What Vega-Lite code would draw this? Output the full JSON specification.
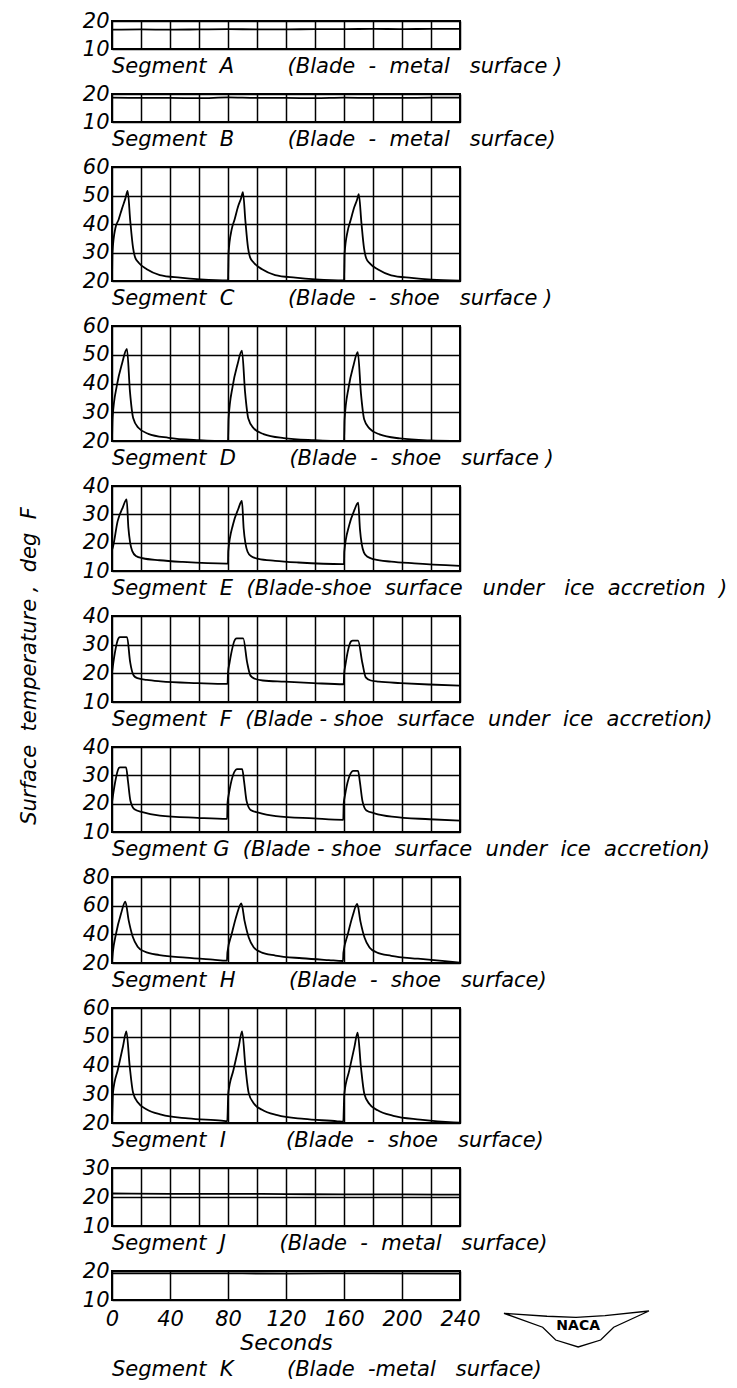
{
  "$schema": "https://vega.github.io/schema/vega-lite/v6.json",
  "padding": {"left": 19, "top": 9, "right": 2, "bottom": 2},
  "background": "white",
  "bounds": "flush",
  "spacing": 45,
  "title": {"text": "Surface\u00a0 temperature\u00a0,\u00a0 deg\u00a0 F", "orient": "left", "anchor": "middle", "frame": "bounds", "offset": 41, "dx": 29, "fontSize": 21, "fontStyle": "italic"},
  "datasets": {
    "A": [{"t":0,"v":16.9},{"t":20,"v":17},{"t":40,"v":16.9},{"t":60,"v":17},{"t":80,"v":17.1},{"t":100,"v":17},{"t":120,"v":17},{"t":140,"v":17.1},{"t":160,"v":17.1},{"t":180,"v":17.2},{"t":200,"v":17.1},{"t":220,"v":17.2},{"t":240,"v":17.2}],
    "B": [{"t":0,"v":18.7},{"t":20,"v":18.6},{"t":40,"v":18.6},{"t":60,"v":18.5},{"t":80,"v":18.8},{"t":100,"v":18.6},{"t":120,"v":18.6},{"t":140,"v":18.5},{"t":160,"v":18.7},{"t":180,"v":18.6},{"t":200,"v":18.6},{"t":220,"v":18.7},{"t":240,"v":18.7}],
    "C": [{"t":0,"v":20},{"t":0.3,"v":30},{"t":2.3,"v":38.5},{"t":4.6,"v":41.6},{"t":6.9,"v":45.4},{"t":9.2,"v":48.9},{"t":10.8,"v":51.6},{"t":12.6,"v":41},{"t":14.5,"v":31.7},{"t":16,"v":28.2},{"t":18.4,"v":26.4},{"t":24,"v":24.1},{"t":33,"v":22.1},{"t":47,"v":21.2},{"t":61,"v":20.6},{"t":80,"v":20.2},
          {"t":80.4,"v":29.9},{"t":82.5,"v":38},{"t":84.5,"v":41.5},{"t":87,"v":46.2},{"t":89,"v":49},{"t":90.3,"v":51.2},{"t":92,"v":41},{"t":93.8,"v":31.7},{"t":95.3,"v":28.2},{"t":97.8,"v":26.4},{"t":103.5,"v":24.1},{"t":112.5,"v":22.1},{"t":126.5,"v":21.2},{"t":140.5,"v":20.6},{"t":160,"v":20.2},
          {"t":160.4,"v":29.5},{"t":162.5,"v":37.5},{"t":164.5,"v":41.2},{"t":167,"v":45.8},{"t":169,"v":48.5},{"t":170.2,"v":50.5},{"t":172,"v":40.5},{"t":173.8,"v":31.5},{"t":175.3,"v":28},{"t":177.8,"v":26.2},{"t":183.5,"v":24},{"t":192.5,"v":22},{"t":206.5,"v":21.1},{"t":220.5,"v":20.5},{"t":240,"v":20.1}],
    "D": [{"t":0,"v":20},{"t":0.4,"v":28},{"t":3.4,"v":39.4},{"t":6.9,"v":46.9},{"t":10.3,"v":52},{"t":12.4,"v":37.1},{"t":14.6,"v":28},{"t":18.2,"v":24.6},{"t":25,"v":22.5},{"t":39,"v":21.1},{"t":60,"v":20.3},{"t":80,"v":20},
          {"t":80.4,"v":27.8},{"t":83.2,"v":39},{"t":86.5,"v":46.5},{"t":89.6,"v":51.4},{"t":91.8,"v":36.8},{"t":94,"v":27.8},{"t":97.6,"v":24.5},{"t":104.5,"v":22.4},{"t":118.5,"v":21},{"t":139.5,"v":20.3},{"t":160,"v":20},
          {"t":160.4,"v":27.5},{"t":163.2,"v":38.7},{"t":166.5,"v":46.2},{"t":169.5,"v":50.9},{"t":171.7,"v":36.5},{"t":173.9,"v":27.6},{"t":177.5,"v":24.4},{"t":184.5,"v":22.3},{"t":198.5,"v":20.9},{"t":219.5,"v":20.2},{"t":240,"v":20}],
    "E": [{"t":0,"v":17.5},{"t":0.5,"v":18.2},{"t":3.9,"v":27.6},{"t":7.4,"v":32.4},{"t":10.1,"v":35.3},{"t":11.3,"v":25.3},{"t":12.5,"v":20},{"t":14,"v":17},{"t":16.5,"v":15.3},{"t":21.2,"v":14.5},{"t":32.7,"v":13.8},{"t":48.8,"v":13.2},{"t":78.8,"v":12.6},{"t":80,"v":12.6},
          {"t":80.2,"v":17},{"t":83.5,"v":26.5},{"t":87,"v":31.8},{"t":89.6,"v":34.7},{"t":90.8,"v":25},{"t":92,"v":19.8},{"t":93.5,"v":16.8},{"t":96,"v":15.2},{"t":101,"v":14.3},{"t":112.5,"v":13.6},{"t":128.5,"v":13},{"t":158.8,"v":12.4},{"t":160,"v":12.4},
          {"t":160.2,"v":16.8},{"t":163.5,"v":26},{"t":167,"v":31.3},{"t":169.8,"v":34.1},{"t":171,"v":24.8},{"t":172.2,"v":19.6},{"t":173.7,"v":16.6},{"t":176.2,"v":15},{"t":181,"v":14.1},{"t":192.5,"v":13.3},{"t":208.5,"v":12.7},{"t":240,"v":11.8}],
    "F": [{"t":0,"v":20.3},{"t":1,"v":24},{"t":4.6,"v":32.3},{"t":5.5,"v":32.6},{"t":10.4,"v":32.6},{"t":12.5,"v":24},{"t":15,"v":19.2},{"t":17.5,"v":18.3},{"t":24,"v":17.7},{"t":33.5,"v":17.2},{"t":59,"v":16.6},{"t":79.7,"v":16.3},
          {"t":80,"v":20.3},{"t":81,"v":23.5},{"t":85,"v":31.9},{"t":86,"v":32.2},{"t":90.5,"v":32.2},{"t":93.2,"v":23.8},{"t":95.5,"v":19.2},{"t":98.5,"v":18.1},{"t":104,"v":17.5},{"t":119,"v":17.1},{"t":139,"v":16.6},{"t":159.8,"v":16.2},
          {"t":160.1,"v":19.8},{"t":161,"v":23},{"t":165,"v":31.2},{"t":166,"v":31.4},{"t":169.7,"v":31.4},{"t":172.6,"v":23.8},{"t":175,"v":18.6},{"t":178.5,"v":17.5},{"t":184,"v":17.1},{"t":199,"v":16.6},{"t":219,"v":16.1},{"t":240,"v":15.7}],
    "G": [{"t":0,"v":20.5},{"t":1,"v":24},{"t":4.8,"v":32.6},{"t":5.5,"v":32.8},{"t":9.7,"v":32.8},{"t":11,"v":28},{"t":12.7,"v":21},{"t":15.5,"v":18},{"t":21,"v":17},{"t":33,"v":15.8},{"t":59,"v":15},{"t":79.4,"v":14.6},
          {"t":79.7,"v":20.3},{"t":80.7,"v":23.7},{"t":85.5,"v":32},{"t":86.2,"v":32.2},{"t":89.8,"v":32.2},{"t":91.1,"v":27.8},{"t":92.8,"v":21},{"t":95.6,"v":17.8},{"t":101,"v":16.8},{"t":113,"v":15.6},{"t":139,"v":14.8},{"t":159.5,"v":14.3},
          {"t":159.8,"v":20},{"t":160.8,"v":23.3},{"t":165.6,"v":31.4},{"t":166.3,"v":31.6},{"t":169.7,"v":31.6},{"t":171,"v":27.5},{"t":172.7,"v":21},{"t":175.5,"v":17.6},{"t":181,"v":16.6},{"t":193,"v":15.4},{"t":219,"v":14.5},{"t":240,"v":14}],
    "H": [{"t":0,"v":21.5},{"t":0.5,"v":26.9},{"t":2.8,"v":40.6},{"t":6.2,"v":54.3},{"t":9.2,"v":62.8},{"t":11.5,"v":49.7},{"t":14.3,"v":38.3},{"t":17.7,"v":31.4},{"t":22.4,"v":28},{"t":32.7,"v":25.5},{"t":51,"v":23.7},{"t":69.6,"v":22.3},{"t":79.3,"v":21.6},
          {"t":79.6,"v":27.5},{"t":82.5,"v":40},{"t":86,"v":53.5},{"t":89.2,"v":61.6},{"t":91.5,"v":49},{"t":94.3,"v":37.8},{"t":97.7,"v":31},{"t":102.4,"v":27.7},{"t":112.7,"v":25.2},{"t":131,"v":23.3},{"t":149.6,"v":22},{"t":159.3,"v":21.4},
          {"t":159.6,"v":27.2},{"t":162.5,"v":39.6},{"t":166,"v":53},{"t":169.1,"v":61.2},{"t":171.4,"v":48.7},{"t":174.2,"v":37.6},{"t":177.6,"v":30.8},{"t":182.3,"v":27.5},{"t":192.6,"v":25},{"t":211,"v":23},{"t":229.6,"v":21.3},{"t":240,"v":20.2}],
    "I": [{"t":0,"v":20.6},{"t":0.7,"v":30.6},{"t":4.1,"v":38.7},{"t":7.6,"v":46.7},{"t":9.9,"v":51.9},{"t":12.2,"v":39.8},{"t":14.5,"v":30.6},{"t":17.9,"v":27.1},{"t":23.7,"v":24.8},{"t":34,"v":22.9},{"t":52.5,"v":21.6},{"t":75.5,"v":20.8},{"t":79.5,"v":20.6},
          {"t":80.2,"v":30.3},{"t":83.8,"v":38.5},{"t":87.4,"v":46.6},{"t":89.7,"v":51.9},{"t":92,"v":39.6},{"t":94.3,"v":30.4},{"t":97.7,"v":26.9},{"t":103.5,"v":24.6},{"t":114,"v":22.7},{"t":132.5,"v":21.4},{"t":155.5,"v":20.6},{"t":159.5,"v":20.4},
          {"t":160.2,"v":30},{"t":163.6,"v":38.2},{"t":167.1,"v":46.2},{"t":169.4,"v":51.4},{"t":171.7,"v":39.3},{"t":174,"v":30.2},{"t":177.4,"v":26.7},{"t":183.2,"v":24.4},{"t":194,"v":22.5},{"t":212.5,"v":21.2},{"t":235.5,"v":20.2},{"t":240,"v":20.1}],
    "J": [{"t":0,"v":21.2},{"t":40,"v":21.1},{"t":80,"v":21.1},{"t":120,"v":21},{"t":160,"v":20.9},{"t":200,"v":20.9},{"t":240,"v":20.8}],
    "K": [{"t":0,"v":19.2},{"t":60,"v":19.2},{"t":120,"v":19.1},{"t":180,"v":19.2},{"t":240,"v":19.1}],
    "logo": [{"o":1,"t":270.3,"v":5.4},{"o":2,"t":300,"v":4.4},{"o":3,"t":320,"v":4.0},{"o":4,"t":340,"v":4.6},{"o":5,"t":370.3,"v":6.2},{"o":6,"t":346,"v":0.6},{"o":7,"t":337,"v":-3.8},{"o":8,"t":321.5,"v":-6.2},{"o":9,"t":306,"v":-3.8},{"o":10,"t":297,"v":0.6},{"o":11,"t":270.3,"v":5.4}],
    "logotext": [{"t":321.5,"v":1.2,"label":"NACA"}]
  },
  "vconcat": [
    {
      "width": 348, "height": 28,
      "data": {"name": "A"},
      "title": {"text": "Segment\u00a0 A\u00a0\u00a0\u00a0\u00a0\u00a0\u00a0\u00a0\u00a0(Blade\u00a0 -\u00a0 metal\u00a0\u00a0 surface\u00a0)"},
      "mark": {"type": "line", "interpolate": "monotone"},
      "encoding": {
        "x": {"field": "t", "type": "quantitative", "scale": {"domain": [0, 240], "nice": false}, "axis": {"values": [0,20,40,60,80,100,120,140,160,180,200,220,240], "labels": false, "title": null}},
        "y": {"field": "v", "type": "quantitative", "scale": {"domain": [10, 20], "nice": false, "zero": false}, "axis": {"values": [10, 20], "title": null}}
      }
    },
    {
      "width": 348, "height": 28,
      "data": {"name": "B"},
      "title": {"text": "Segment\u00a0 B\u00a0\u00a0\u00a0\u00a0\u00a0\u00a0\u00a0\u00a0(Blade\u00a0 -\u00a0 metal\u00a0\u00a0 surface)"},
      "mark": {"type": "line", "interpolate": "monotone"},
      "encoding": {
        "x": {"field": "t", "type": "quantitative", "scale": {"domain": [0, 240], "nice": false}, "axis": {"values": [0,20,40,60,80,100,120,140,160,180,200,220,240], "labels": false, "title": null}},
        "y": {"field": "v", "type": "quantitative", "scale": {"domain": [10, 20], "nice": false, "zero": false}, "axis": {"values": [10, 20], "title": null}}
      }
    },
    {
      "width": 348, "height": 114,
      "data": {"name": "C"},
      "title": {"text": "Segment\u00a0 C\u00a0\u00a0\u00a0\u00a0\u00a0\u00a0\u00a0\u00a0(Blade\u00a0 -\u00a0 shoe\u00a0\u00a0 surface\u00a0)"},
      "mark": {"type": "line", "interpolate": "monotone"},
      "encoding": {
        "x": {"field": "t", "type": "quantitative", "scale": {"domain": [0, 240], "nice": false}, "axis": {"values": [0,20,40,60,80,100,120,140,160,180,200,220,240], "labels": false, "title": null}},
        "y": {"field": "v", "type": "quantitative", "scale": {"domain": [20, 60], "nice": false, "zero": false}, "axis": {"values": [20, 30, 40, 50, 60], "title": null}}
      }
    },
    {
      "width": 348, "height": 115,
      "data": {"name": "D"},
      "title": {"text": "Segment\u00a0 D\u00a0\u00a0\u00a0\u00a0\u00a0\u00a0\u00a0\u00a0(Blade\u00a0 -\u00a0 shoe\u00a0\u00a0 surface\u00a0)"},
      "mark": {"type": "line", "interpolate": "monotone"},
      "encoding": {
        "x": {"field": "t", "type": "quantitative", "scale": {"domain": [0, 240], "nice": false}, "axis": {"values": [0,20,40,60,80,100,120,140,160,180,200,220,240], "labels": false, "title": null}},
        "y": {"field": "v", "type": "quantitative", "scale": {"domain": [20, 60], "nice": false, "zero": false}, "axis": {"values": [20, 30, 40, 50, 60], "title": null}}
      }
    },
    {
      "width": 348, "height": 85,
      "data": {"name": "E"},
      "title": {"text": "Segment\u00a0 E\u00a0\u00a0(Blade-shoe\u00a0 surface\u00a0\u00a0 under\u00a0\u00a0 ice\u00a0 accretion\u00a0\u00a0)"},
      "mark": {"type": "line", "interpolate": "monotone"},
      "encoding": {
        "x": {"field": "t", "type": "quantitative", "scale": {"domain": [0, 240], "nice": false}, "axis": {"values": [0,20,40,60,80,100,120,140,160,180,200,220,240], "labels": false, "title": null}},
        "y": {"field": "v", "type": "quantitative", "scale": {"domain": [10, 40], "nice": false, "zero": false}, "axis": {"values": [10, 20, 30, 40], "title": null}}
      }
    },
    {
      "width": 348, "height": 86,
      "data": {"name": "F"},
      "title": {"text": "Segment\u00a0 F\u00a0\u00a0(Blade\u00a0-\u00a0shoe\u00a0 surface\u00a0 under\u00a0 ice\u00a0 accretion)"},
      "mark": {"type": "line", "interpolate": "monotone"},
      "encoding": {
        "x": {"field": "t", "type": "quantitative", "scale": {"domain": [0, 240], "nice": false}, "axis": {"values": [0,20,40,60,80,100,120,140,160,180,200,220,240], "labels": false, "title": null}},
        "y": {"field": "v", "type": "quantitative", "scale": {"domain": [10, 40], "nice": false, "zero": false}, "axis": {"values": [10, 20, 30, 40], "title": null}}
      }
    },
    {
      "width": 348, "height": 85,
      "data": {"name": "G"},
      "title": {"text": "Segment\u00a0G\u00a0\u00a0(Blade\u00a0-\u00a0shoe\u00a0 surface\u00a0 under\u00a0 ice\u00a0 accretion)"},
      "mark": {"type": "line", "interpolate": "monotone"},
      "encoding": {
        "x": {"field": "t", "type": "quantitative", "scale": {"domain": [0, 240], "nice": false}, "axis": {"values": [0,20,40,60,80,100,120,140,160,180,200,220,240], "labels": false, "title": null}},
        "y": {"field": "v", "type": "quantitative", "scale": {"domain": [10, 40], "nice": false, "zero": false}, "axis": {"values": [10, 20, 30, 40], "title": null}}
      }
    },
    {
      "width": 348, "height": 86,
      "data": {"name": "H"},
      "title": {"text": "Segment\u00a0 H\u00a0\u00a0\u00a0\u00a0\u00a0\u00a0\u00a0\u00a0(Blade\u00a0 -\u00a0 shoe\u00a0\u00a0 surface)"},
      "mark": {"type": "line", "interpolate": "monotone"},
      "encoding": {
        "x": {"field": "t", "type": "quantitative", "scale": {"domain": [0, 240], "nice": false}, "axis": {"values": [0,20,40,60,80,100,120,140,160,180,200,220,240], "labels": false, "title": null}},
        "y": {"field": "v", "type": "quantitative", "scale": {"domain": [20, 80], "nice": false, "zero": false}, "axis": {"values": [20, 40, 60, 80], "title": null}}
      }
    },
    {
      "width": 348, "height": 115,
      "data": {"name": "I"},
      "title": {"text": "Segment\u00a0 I\u00a0\u00a0\u00a0\u00a0\u00a0\u00a0\u00a0\u00a0\u00a0(Blade\u00a0 -\u00a0 shoe\u00a0\u00a0 surface)"},
      "mark": {"type": "line", "interpolate": "monotone"},
      "encoding": {
        "x": {"field": "t", "type": "quantitative", "scale": {"domain": [0, 240], "nice": false}, "axis": {"values": [0,20,40,60,80,100,120,140,160,180,200,220,240], "labels": false, "title": null}},
        "y": {"field": "v", "type": "quantitative", "scale": {"domain": [20, 60], "nice": false, "zero": false}, "axis": {"values": [20, 30, 40, 50, 60], "title": null}}
      }
    },
    {
      "width": 348, "height": 58,
      "data": {"name": "J"},
      "title": {"text": "Segment\u00a0 J\u00a0\u00a0\u00a0\u00a0\u00a0\u00a0\u00a0\u00a0(Blade\u00a0 -\u00a0 metal\u00a0\u00a0 surface)"},
      "mark": {"type": "line", "interpolate": "monotone"},
      "encoding": {
        "x": {"field": "t", "type": "quantitative", "scale": {"domain": [0, 240], "nice": false}, "axis": {"values": [0,20,40,60,80,100,120,140,160,180,200,220,240], "labels": false, "title": null}},
        "y": {"field": "v", "type": "quantitative", "scale": {"domain": [10, 30], "nice": false, "zero": false}, "axis": {"values": [10, 20, 30], "title": null}}
      }
    },
    {
      "width": 348, "height": 29,
      "title": {"text": "Segment\u00a0 K\u00a0\u00a0\u00a0\u00a0\u00a0\u00a0\u00a0\u00a0(Blade\u00a0 -metal\u00a0\u00a0 surface)", "offset": 6},
      "layer": [
        {
          "data": {"name": "K"},
          "mark": {"type": "line", "interpolate": "monotone"},
          "encoding": {
            "x": {"field": "t", "type": "quantitative", "scale": {"domain": [0, 240], "nice": false}, "axis": {"values": [0,20,40,60,80,100,120,140,160,180,200,220,240], "labelExpr": "datum.value % 40 === 0 ? datum.label : ''", "title": "Seconds", "titleFontSize": 22, "titlePadding": 3, "labelPadding": 8}},
            "y": {"field": "v", "type": "quantitative", "scale": {"domain": [10, 20], "nice": false, "zero": false}, "axis": {"values": [10, 20], "title": null}}
          }
        },
        {
          "data": {"name": "logo"},
          "mark": {"type": "line", "strokeWidth": 1.3, "clip": false},
          "encoding": {
            "x": {"field": "t", "type": "quantitative"},
            "y": {"field": "v", "type": "quantitative"},
            "order": {"field": "o"}
          }
        },
        {
          "data": {"name": "logotext"},
          "mark": {"type": "text", "font": "DejaVu Sans", "fontWeight": "bold", "fontSize": 14, "color": "black", "clip": false},
          "encoding": {
            "x": {"field": "t", "type": "quantitative"},
            "y": {"field": "v", "type": "quantitative"},
            "text": {"field": "label"}
          }
        }
      ]
    }
  ],
  "config": {
    "font": "DejaVu Sans",
    "view": {"stroke": "black", "strokeWidth": 2},
    "line": {"color": "black", "strokeWidth": 1.8},
    "axis": {"grid": true, "gridColor": "black", "gridOpacity": 1, "gridWidth": 1.5, "domain": false, "ticks": false, "labelFont": "DejaVu Sans", "labelFontStyle": "italic", "labelFontSize": 21, "labelColor": "black", "labelPadding": 3, "labelOverlap": false, "labelFlush": false, "titleFont": "DejaVu Sans", "titleFontStyle": "italic", "titleFontWeight": "normal", "titleColor": "black", "minExtent": 0},
    "title": {"font": "DejaVu Sans", "fontStyle": "italic", "fontWeight": "normal", "fontSize": 21, "color": "black", "orient": "bottom", "anchor": "start", "offset": -3, "frame": "group"}
  }
}
